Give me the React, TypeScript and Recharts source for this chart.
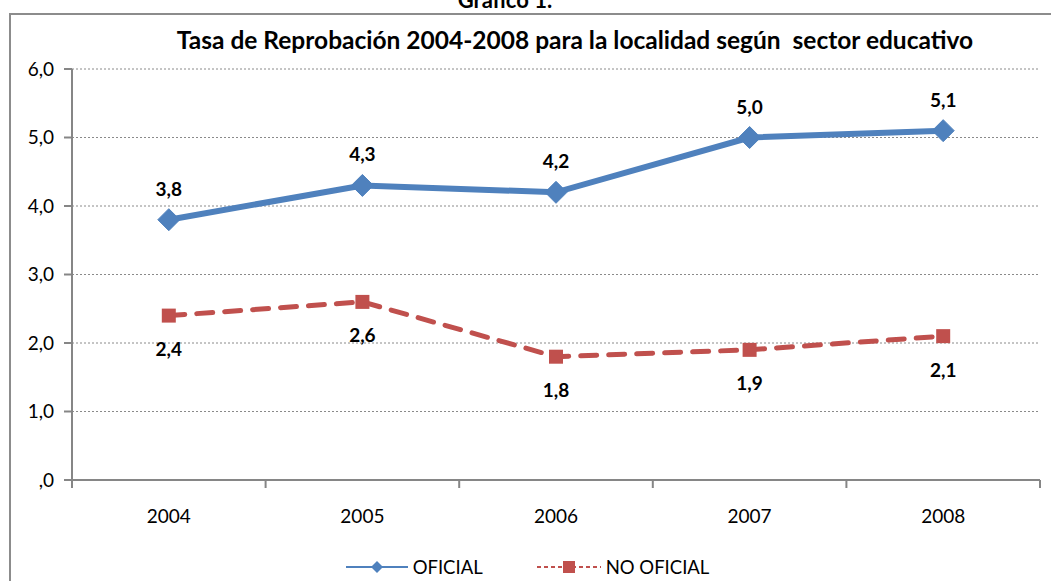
import { LineChart, Line, XAxis, YAxis, CartesianGrid, Legend, LabelList } from "recharts";

const years = ["2004", "2005", "2006", "2007", "2008"];
const oficial = [3.8, 4.3, 4.2, 5.0, 5.1];
const noOficial = [2.4, 2.6, 1.8, 1.9, 2.1];
const yTicks = [0, 1, 2, 3, 4, 5, 6];

const BLUE = "#4F81BD";
const RED = "#C0504D";
const AXIS = "#868686";
const FONT = "Lato, 'Open Sans', sans-serif";

const chartData = years.map((year, i) => ({
  year,
  oficial: oficial[i],
  noOficial: noOficial[i],
}));

const fmt = (v: number) => (v === 0 ? ",0" : v.toFixed(1).replace(".", ","));

const Diamond = (props: any) => {
  const { cx, cy } = props;
  if (cx == null || cy == null) return null;
  const r = 11;
  return (
    <path
      d={`M${cx},${cy - r} L${cx + r},${cy} L${cx},${cy + r} L${cx - r},${cy} Z`}
      fill={BLUE}
      stroke={BLUE}
    />
  );
};

const Square = (props: any) => {
  const { cx, cy } = props;
  if (cx == null || cy == null) return null;
  const s = 14;
  return <rect x={cx - s / 2} y={cy - s / 2} width={s} height={s} fill={RED} />;
};

// category label in the middle, tick marks on the band edges (Excel style)
const XTick = (props: any) => {
  const { x, y, payload, index } = props;
  const half = payload?.offset || 96.8;
  const last = index === years.length - 1;
  return (
    <g>
      <line x1={x - half} y1={y - 8} x2={x - half} y2={y} stroke={AXIS} strokeWidth={2} />
      {last && <line x1={x + half} y1={y - 8} x2={x + half} y2={y} stroke={AXIS} strokeWidth={2} />}
      <text x={x} y={y + 35} textAnchor="middle" fontSize={19} fill="#000" fontFamily={FONT}>
        {payload.value}
      </text>
    </g>
  );
};

const LegendContent = () => (
  <div style={{ display: "flex", justifyContent: "center", alignItems: "center", fontFamily: FONT, fontSize: 18.5, color: "#000", paddingLeft: 4 }}>
    <svg width={62} height={16} style={{ marginRight: 5 }}>
      <line x1={0} y1={8} x2={62} y2={8} stroke={BLUE} strokeWidth={2} />
      <path d="M31,2 L37,8 L31,14 L25,8 Z" fill={BLUE} />
    </svg>
    <span style={{ marginRight: 54 }}>OFICIAL</span>
    <svg width={64} height={16} style={{ marginRight: 5 }}>
      <line x1={0} y1={8} x2={64} y2={8} stroke={RED} strokeWidth={2} strokeDasharray="4 3" />
      <rect x={26} y={2} width={12} height={12} fill={RED} />
    </svg>
    <span>NO OFICIAL</span>
  </div>
);

export default function App() {
  return (
    <div style={{ position: "absolute", left: 0, top: 0, width: 1051, height: 581, overflow: "hidden", background: "#fff" }}>
      <div
        style={{
          position: "absolute",
          left: 9,
          top: 13,
          width: 1200,
          height: 800,
          border: "2px solid #8c8c8c",
        }}
      />
      <div
        style={{
          position: "absolute",
          left: 0,
          width: 1010,
          top: -14,
          textAlign: "center",
          fontFamily: FONT,
          fontWeight: 700,
          fontSize: 22,
        }}
      >
        Gráfico 1.
      </div>
      <div
        style={{
          position: "absolute",
          left: 100,
          width: 950,
          top: 25,
          textAlign: "center",
          fontFamily: FONT,
          fontWeight: 700,
          fontSize: 24.5,
          whiteSpace: "pre",
          color: "#000",
        }}
      >
        {"Tasa de Reprobación 2004-2008 para la localidad según  sector educativo"}
      </div>
      <div style={{ position: "absolute", left: 0, top: 0 }}>
        <LineChart width={1051} height={581} data={chartData} margin={{ top: 69, right: 11, bottom: 0, left: 0 }}>
          <CartesianGrid vertical={false} stroke="#8a8a8a" strokeDasharray="2 2" />
          <XAxis
            dataKey="year"
            scale="band"
            height={101}
            axisLine={{ stroke: AXIS, strokeWidth: 2 }}
            tickLine={false}
            tick={<XTick />}
            interval={0}
          />
          <YAxis
            width={72}
            domain={[0, 6]}
            ticks={yTicks}
            tickFormatter={fmt}
            axisLine={{ stroke: AXIS, strokeWidth: 2 }}
            tickLine={{ stroke: AXIS, strokeWidth: 2 }}
            tickSize={8}
            tickMargin={10}
            tick={{ fill: "#000", fontSize: 19, fontFamily: FONT }}
          />
          <Legend
            verticalAlign="middle"
            align="center"
            layout="horizontal"
            content={<LegendContent />}
            wrapperStyle={{ top: 556, left: 0, width: 1051 }}
          />
          <Line
            type="linear"
            dataKey="oficial"
            name="OFICIAL"
            stroke={BLUE}
            strokeWidth={6}
            dot={<Diamond />}
            activeDot={false}
            isAnimationActive={false}
          >
            <LabelList dataKey="oficial" position="top" offset={24} formatter={(v: any) => fmt(Number(v))} fill="#000" fontSize={19} fontWeight={700} fontFamily={FONT} />
          </Line>
          <Line
            type="linear"
            dataKey="noOficial"
            name="NO OFICIAL"
            stroke={RED}
            strokeWidth={5}
            strokeDasharray="16 12"
            strokeLinecap="round"
            dot={<Square />}
            activeDot={false}
            isAnimationActive={false}
          >
            <LabelList dataKey="noOficial" position="bottom" offset={27} formatter={(v: any) => fmt(Number(v))} fill="#000" fontSize={19} fontWeight={700} fontFamily={FONT} />
          </Line>
        </LineChart>
      </div>
    </div>
  );
}
